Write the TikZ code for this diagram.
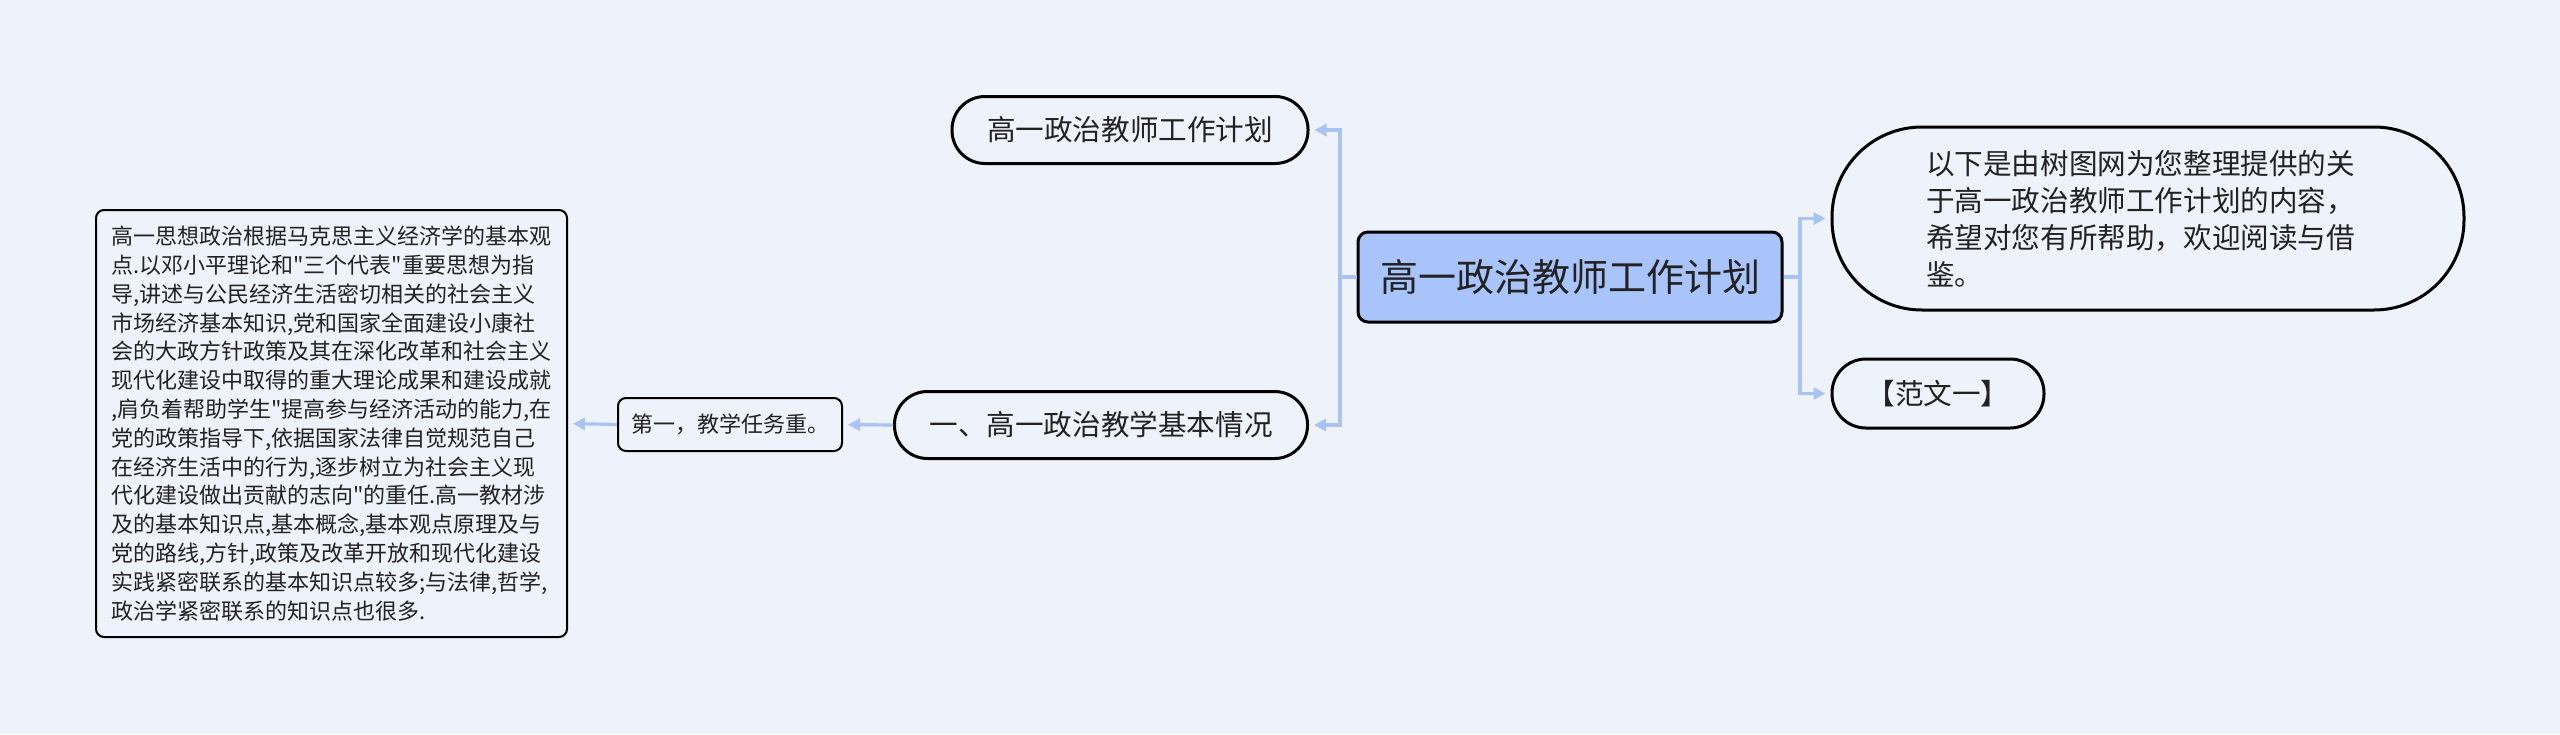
\documentclass[tikz,border=0pt]{standalone}
\usepackage{fontspec}
\setmainfont{Noto Sans CJK SC}[Ligatures=TeXOff]
\usetikzlibrary{arrows.meta}
\definecolor{bg}{HTML}{EEF2FA}
\definecolor{rootfill}{HTML}{A8C4FB}
\definecolor{conncol}{HTML}{A9C3F5}
\definecolor{txt}{HTML}{222222}
\tikzset{
  pill/.style={draw=black, line width=1.5pt, fill=bg, text=txt, inner sep=0pt,
    minimum height=33.5pt, rounded corners=16.5pt,
    font=\fontsize{14.3pt}{18.5pt}\selectfont},
  rootbox/.style={draw=black, line width=1.5pt, fill=rootfill, text=txt, inner sep=0pt,
    minimum width=212pt, minimum height=45pt, rounded corners=5pt,
    font=\fontsize{19pt}{23pt}\selectfont},
  smallbox/.style={draw=black, line width=1pt, fill=bg, text=txt, inner sep=0pt,
    rounded corners=4pt, font=\fontsize{11pt}{14.4pt}\selectfont},
  conn/.style={draw=conncol, line width=1.6pt, shorten >=2.5pt,
    -{Triangle[length=6pt,width=6pt]}},
}
\begin{document}
\begin{tikzpicture}[x=0.5pt,y=-0.5pt]
\fill[bg] (0,0) rectangle (2560,734);
\useasboundingbox (0,0) rectangle (2560,734);

\node[rootbox] (root) at (1570,277) {高一政治教师工作计划};
\node[pill, minimum width=178pt] (top) at (1130,130) {高一政治教师工作计划};
\node[pill, minimum width=206.5pt] (basic) at (1101,425) {一、高一政治教学基本情况};
\node[smallbox, minimum width=112pt, minimum height=26.5pt] (first) at (730,424.5) {第一，教学任务重。};
\node[smallbox, minimum width=235.5pt, minimum height=213.5pt, align=left] (bigbox) at (331.5,423.5)
 {高一思想政治根据马克思主义经济学的基本观\\
  点.以邓小平理论和"三个代表"重要思想为指\\
  导,讲述与公民经济生活密切相关的社会主义\\
  市场经济基本知识,党和国家全面建设小康社\\
  会的大政方针政策及其在深化改革和社会主义\\
  现代化建设中取得的重大理论成果和建设成就\\
  ,肩负着帮助学生"提高参与经济活动的能力,在\\
  党的政策指导下,依据国家法律自觉规范自己\\
  在经济生活中的行为,逐步树立为社会主义现\\
  代化建设做出贡献的志向"的重任.高一教材涉\\
  及的基本知识点,基本概念,基本观点原理及与\\
  党的路线,方针,政策及改革开放和现代化建设\\
  实践紧密联系的基本知识点较多;与法律,哲学,\\
  政治学紧密联系的知识点也很多.};
\node[pill, minimum width=316pt, minimum height=91.5pt, rounded corners=45pt, text width=222pt, align=left] (desc) at (2148,218.5)
 {以下是由树图网为您整理提供的关\\
  于高一政治教师工作计划的内容，\\
  希望对您有所帮助，欢迎阅读与借\\
  鉴。};
\node[pill, minimum width=106pt, minimum height=34.5pt, rounded corners=17pt] (fanwen) at (1938,393.5) {【范文一】};

\coordinate (lj) at (1340,277);
\coordinate (rj) at (1800,277);
\draw[conn] (root.west) -- (lj) |- (top.east);
\draw[conn] (root.west) -- (lj) |- (basic.east);
\draw[conn] (root.east) -- (rj) |- (desc.west);
\draw[conn] (root.east) -- (rj) |- (fanwen.west);
\draw[conn] (basic.west) -- (first.east);
\draw[conn] (first.west) -- (bigbox.east);
\end{tikzpicture}
\end{document}
